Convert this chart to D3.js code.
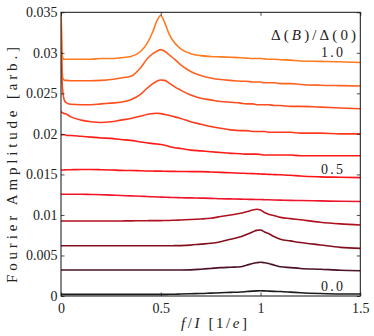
<!DOCTYPE html>
<html>
<head>
<meta charset="utf-8">
<script src="https://cdn.jsdelivr.net/npm/d3@7"></script>
<style>
  html, body { margin: 0; padding: 0; background: #fff; }
  svg { display: block; }
  text { font-family: "Liberation Serif", "DejaVu Serif", serif; fill: #222; }
</style>
</head>
<body>
<svg id="chart" width="374" height="336"></svg>
<script>
// ---- data ----
const xs = [0, 0.003, 0.006, 0.01, 0.015, 0.02, 0.03, 0.05,
            0.1, 0.15, 0.2, 0.25, 0.3, 0.35, 0.4,
            0.43, 0.46, 0.48, 0.5, 0.52, 0.54, 0.57, 0.6,
            0.65, 0.7, 0.75, 0.8, 0.85, 0.9,
            0.93, 0.96, 0.98, 1.0, 1.02, 1.04, 1.07, 1.1,
            1.15, 1.2, 1.3, 1.4, 1.5];

const c10 = [0.0360, 0.0315, 0.0298, 0.0293, 0.0292, 0.0292, 0.0292, 0.0292,
             0.0292, 0.0292, 0.0293, 0.0293, 0.0294, 0.02955, 0.0302,
             0.0311, 0.0326, 0.0339, 0.0346, 0.0337, 0.0324, 0.0312, 0.0305,
             0.0299, 0.02965, 0.02955, 0.0295, 0.02945, 0.0294,
             0.02935, 0.0293, 0.0293, 0.0293, 0.02925, 0.0292, 0.0292, 0.02915,
             0.0291, 0.0290, 0.02895, 0.0289, 0.0288];
const c9 = [0.0360, 0.0300, 0.0275, 0.0268, 0.02665, 0.0266, 0.0266, 0.02655,
            0.02655, 0.02655, 0.0266, 0.0267, 0.0269, 0.0271, 0.0282,
            0.0292, 0.0299, 0.0302, 0.0304, 0.0302, 0.0298, 0.0292, 0.0285,
            0.0277, 0.0272, 0.0269, 0.0267, 0.0266, 0.0265,
            0.0265, 0.0264, 0.0264, 0.0264, 0.0263, 0.0263, 0.0263, 0.0262,
            0.0262, 0.0261, 0.0260, 0.02595, 0.0259];
const c8 = [0.0360, 0.0290, 0.0262, 0.0250, 0.0243, 0.0240, 0.0238, 0.02365,
            0.0236, 0.0236, 0.0237, 0.0238, 0.0239, 0.0242, 0.0249,
            0.0256, 0.0262, 0.0265, 0.02665, 0.0266, 0.0263, 0.0258, 0.0254,
            0.0248, 0.0244, 0.0242, 0.0240, 0.0239, 0.0238,
            0.0237, 0.0237, 0.0236, 0.0236, 0.0236, 0.0236, 0.0235, 0.0235,
            0.0234, 0.0234, 0.0233, 0.0232, 0.0231];
const c7 = [0.0228, 0.0227, 0.0226, 0.0226, 0.0225, 0.0225, 0.0224, 0.0221,
            0.0217, 0.0215, 0.0214, 0.0215, 0.0217, 0.0219, 0.0222,
            0.0224, 0.0225, 0.02255, 0.0225, 0.0224, 0.0223, 0.0221, 0.0219,
            0.0215, 0.0212, 0.0209, 0.0207, 0.0205, 0.0204,
            0.0204, 0.0203, 0.0203, 0.0203, 0.0203, 0.0202, 0.0202, 0.0202,
            0.0202, 0.0201, 0.0201, 0.0200, 0.0200];
const c6 = [0.0198, 0.0199, 0.0199, 0.0199, 0.0199, 0.0199, 0.0198, 0.0198,
            0.0197, 0.0196, 0.0195, 0.01945, 0.0193, 0.0192, 0.0190,
            0.0189, 0.0188, 0.01875, 0.0187, 0.0186, 0.01845, 0.0183, 0.0182,
            0.0180, 0.0179, 0.0178, 0.0177, 0.0176, 0.01755,
            0.0175, 0.0175, 0.0175, 0.01745, 0.0174, 0.0174, 0.0174, 0.0174,
            0.0174, 0.0173, 0.0173, 0.0173, 0.0173];
const c5 = [0.01555, 0.01555, 0.01555, 0.01555, 0.01555, 0.01556, 0.01557, 0.01558,
            0.0156, 0.0156, 0.01558, 0.01555, 0.0155, 0.01548, 0.01545,
            0.01543, 0.01542, 0.0154, 0.0154, 0.01539, 0.01538, 0.01537, 0.01536,
            0.01535, 0.01534, 0.0153, 0.01525, 0.0152, 0.01515,
            0.01512, 0.0151, 0.01508, 0.01505, 0.01503, 0.015, 0.01498, 0.01495,
            0.0149, 0.0148, 0.0147, 0.01465, 0.0146];
const c4 = [0.01255, 0.01255, 0.01255, 0.01255, 0.01255, 0.01255, 0.01255, 0.01256,
            0.01256, 0.01253, 0.0125, 0.01245, 0.0124, 0.01235, 0.0123,
            0.01228, 0.01225, 0.01222, 0.0122, 0.01218, 0.01217, 0.01215, 0.01213,
            0.0121, 0.01208, 0.01205, 0.012, 0.01198, 0.01195,
            0.01193, 0.01192, 0.0119, 0.0119, 0.01188, 0.01187, 0.01185, 0.01183,
            0.0118, 0.01178, 0.01173, 0.01168, 0.01165];
const c3 = [0.00925, 0.00925, 0.00925, 0.00925, 0.00925, 0.00925, 0.00925, 0.00925,
            0.00925, 0.00925, 0.00925, 0.00925, 0.00926, 0.00927, 0.00928,
            0.00929, 0.0093, 0.0093, 0.0093, 0.00931, 0.00932, 0.00935, 0.00938,
            0.00943, 0.0095, 0.0096, 0.0098, 0.0100, 0.0102,
            0.0104, 0.0106, 0.0107, 0.0106, 0.0103, 0.0101, 0.0099, 0.0097,
            0.00955, 0.0094, 0.0091, 0.0089, 0.00876];
const c2 = [0.0062, 0.0062, 0.0062, 0.0062, 0.0062, 0.0062, 0.0062, 0.0062,
            0.0062, 0.0062, 0.0062, 0.0062, 0.0062, 0.0062, 0.0062,
            0.0062, 0.0062, 0.0062, 0.0062, 0.0062, 0.0062, 0.00621, 0.00622,
            0.00628, 0.0064, 0.0065, 0.0067, 0.0070, 0.0073,
            0.0076, 0.0079, 0.0081, 0.00814, 0.0079, 0.0077, 0.0073, 0.0070,
            0.0068, 0.0066, 0.0063, 0.0060, 0.00588];
const c1 = [0.0032, 0.0032, 0.0032, 0.0032, 0.0032, 0.0032, 0.0032, 0.0032,
            0.0032, 0.0032, 0.0032, 0.0032, 0.0032, 0.0032, 0.0032,
            0.0032, 0.0032, 0.0032, 0.0032, 0.0032, 0.0032, 0.0032, 0.0032,
            0.00322, 0.0033, 0.0034, 0.0035, 0.00355, 0.0036,
            0.0038, 0.0040, 0.0041, 0.00416, 0.0041, 0.0040, 0.0038, 0.0036,
            0.0035, 0.0034, 0.0033, 0.00318, 0.00312];
const c0 = [0.0002, 0.0002, 0.0002, 0.0002, 0.0002, 0.0002, 0.0002, 0.0002,
            0.0002, 0.0002, 0.0002, 0.0002, 0.0002, 0.0002, 0.0002,
            0.0002, 0.0002, 0.0002, 0.0002, 0.0002, 0.00021, 0.00022, 0.00025,
            0.00028, 0.0003, 0.00035, 0.0004, 0.00045, 0.0005,
            0.00055, 0.0006, 0.00063, 0.00065, 0.00063, 0.0006, 0.00057, 0.00055,
            0.00048, 0.0004, 0.0003, 0.00025, 0.00025];

const seriesList = [c0, c1, c2, c3, c4, c5, c6, c7, c8, c9, c10];
const seriesColors = ["#1c1a1c", "#4a1222", "#84101f", "#b0111e", "#f0142a", "#ff1418",
                      "#ff1c18", "#ff3a1c", "#ff4c1c", "#ff621e", "#ff7a20"];

const yTicks = [0, 0.005, 0.01, 0.015, 0.02, 0.025, 0.03, 0.035];
const yTickLabels = ["0", "0.005", "0.01", "0.015", "0.02", "0.025", "0.03", "0.035"];
const xTicks = [0, 0.5, 1, 1.5];
const xTickLabels = ["0", "0.5", "1", "1.5"];

const annoLabels = ["1.0", "0.5", "0.0"];
const annoValues = [0.02998, 0.01554, 0.00117];

// ---- layout ----
const L = 61, R = 360.3, T = 12.3, B = 296;
const svg = d3.select("#chart");
const x = d3.scaleLinear().domain([0, 1.5]).range([L, R]);
const y = d3.scaleLinear().domain([0, 0.035]).range([B, T]);

svg.append("defs").append("clipPath").attr("id", "clip")
  .append("rect").attr("x", L).attr("y", T).attr("width", R - L).attr("height", B - T);

const line = d3.line()
  .x((d, i) => x(xs[i]))
  .y(d => y(d))
  .curve(d3.curveMonotoneX);

const g = svg.append("g").attr("clip-path", "url(#clip)");
seriesList.forEach((s, k) => {
  g.append("path").datum(s)
    .attr("d", line)
    .attr("fill", "none")
    .attr("stroke", seriesColors[k])
    .attr("stroke-width", 1.6)
    .attr("stroke-linejoin", "round");
});

// axes with inward ticks
const fs = 14;
const yAxisL = d3.axisLeft(y).tickValues(yTicks).tickFormat((d, i) => yTickLabels[i])
  .tickSizeInner(-3.5).tickSizeOuter(0).tickPadding(3.5);
const yAxisR = d3.axisRight(y).tickValues(yTicks).tickFormat("")
  .tickSizeInner(-3.5).tickSizeOuter(0);
const xAxisB = d3.axisBottom(x).tickValues(xTicks).tickFormat((d, i) => xTickLabels[i])
  .tickSizeInner(-3.5).tickSizeOuter(0).tickPadding(7);
const xAxisT = d3.axisTop(x).tickValues(xTicks).tickFormat("")
  .tickSizeInner(-3.5).tickSizeOuter(0);

function style(sel) {
  sel.select(".domain").remove();
  sel.selectAll(".tick line").attr("stroke", "#222").attr("stroke-width", 0.8);
  sel.selectAll(".tick text").attr("font-size", fs).attr("fill", "#222");
}
svg.append("g").attr("transform", `translate(${L},0)`).call(yAxisL).call(style);
svg.append("g").attr("transform", `translate(${R},0)`).call(yAxisR).call(style);
svg.append("g").attr("transform", `translate(0,${B})`).call(xAxisB).call(style);
svg.append("g").attr("transform", `translate(0,${T})`).call(xAxisT).call(style);

svg.append("rect").attr("x", L).attr("y", T).attr("width", R - L).attr("height", B - T)
  .attr("fill", "none").attr("stroke", "#111").attr("stroke-width", 1);

// axis titles
svg.append("text")
  .attr("transform", `translate(16.5,165) rotate(-90)`)
  .attr("text-anchor", "middle").attr("font-size", 15)
  .attr("textLength", 236).attr("lengthAdjust", "spacing")
  .text("Fourier Amplitude [arb.]");

const xl = svg.append("text")
  .attr("x", 181).attr("y", 328).attr("font-size", 15)
  .attr("textLength", 66).attr("lengthAdjust", "spacing");
xl.append("tspan").attr("font-style", "italic").text("f");
xl.append("tspan").text("/");
xl.append("tspan").attr("font-style", "italic").text("I");
xl.append("tspan").text("\u00a0[1/");
xl.append("tspan").attr("font-style", "italic").text("e");
xl.append("tspan").text("]");

// legend title
const lt = svg.append("text")
  .attr("x", 271).attr("y", 40).attr("font-size", 15)
  .attr("textLength", 85).attr("lengthAdjust", "spacing");
lt.append("tspan").text("\u0394(");
lt.append("tspan").attr("font-style", "italic").text("B");
lt.append("tspan").text(")/\u0394(0)");

// curve annotations
annoLabels.forEach((t, i) => {
  svg.append("text")
    .attr("x", 321).attr("y", y(annoValues[i]) + 4)
    .attr("font-size", 14)
    .attr("textLength", 22).attr("lengthAdjust", "spacing")
    .text(t);
});
</script>
</body>
</html>
